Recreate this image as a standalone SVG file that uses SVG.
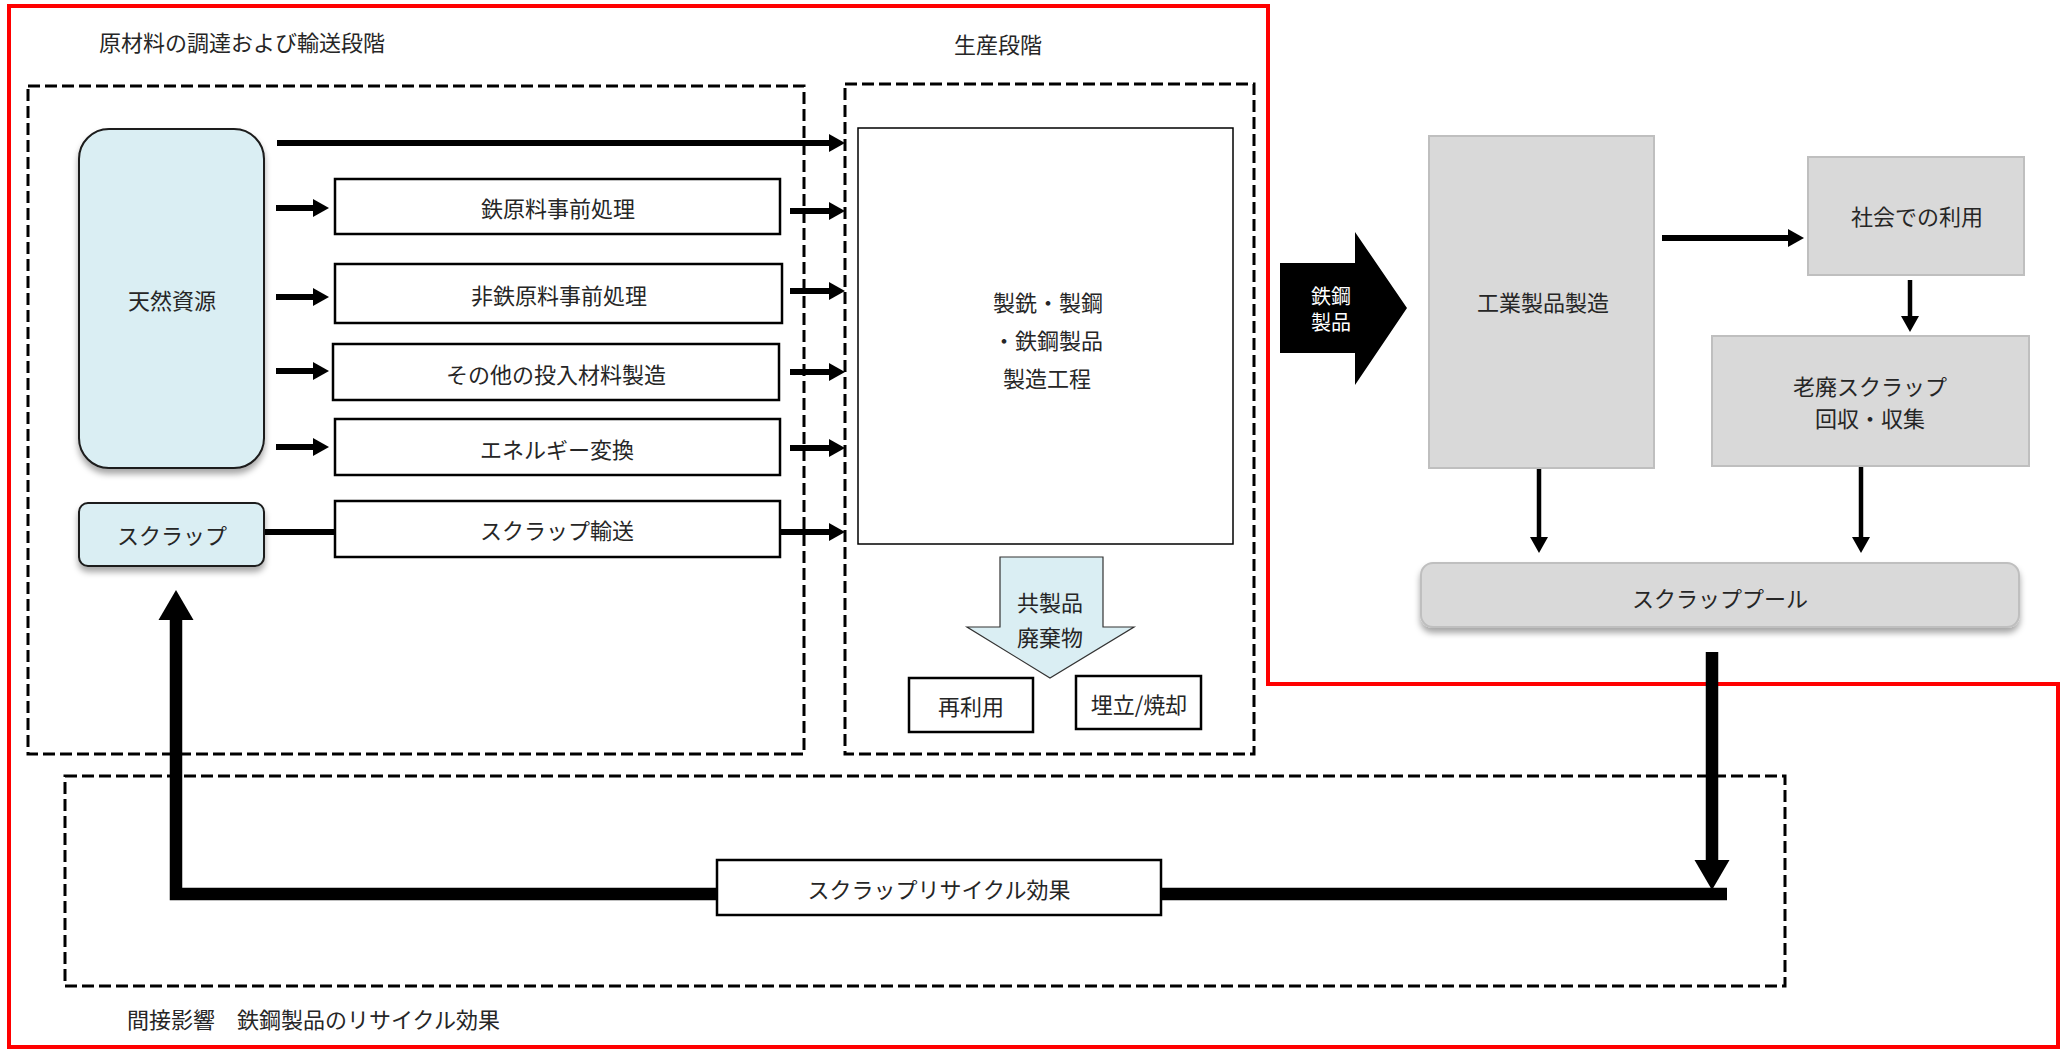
<svg xmlns="http://www.w3.org/2000/svg" width="2069" height="1050" viewBox="0 0 2069 1050">
<style>
text{font-family:"Noto Sans CJK JP","Noto Sans CJK SC",sans-serif;font-size:22px;fill:#262626;dominant-baseline:central}
.c{text-anchor:middle}
.dash{fill:none;stroke:#000;stroke-width:3;stroke-dasharray:12 5}
.box{fill:#fff;stroke:#000;stroke-width:2.5}
.blue{fill:#DAEEF3;stroke:#1a1a1a;stroke-width:2}
.gray{fill:#D9D9D9;stroke:#BFBFBF;stroke-width:2}
.ar{fill:none;stroke:#000;stroke-width:6;marker-end:url(#ah)}
.ars{fill:none;stroke:#000;stroke-width:4.5;marker-end:url(#ah)}
.big{fill:none;stroke:#000;stroke-width:12.5}
</style>
<defs>
<marker id="ah" markerUnits="userSpaceOnUse" markerWidth="16" markerHeight="18" refX="0" refY="9" orient="auto" overflow="visible"><path d="M0,0 L16,9 L0,18 Z" fill="#000"/></marker>
<marker id="ahb" markerUnits="userSpaceOnUse" markerWidth="30" markerHeight="35" refX="0" refY="17.5" orient="auto" overflow="visible"><path d="M0,0 L30,17.5 L0,35 Z" fill="#000"/></marker>
<filter id="sh" x="-10%" y="-10%" width="120%" height="130%"><feDropShadow dx="0" dy="5" stdDeviation="3" flood-color="#000" flood-opacity="0.35"/></filter>
</defs>
<rect width="2069" height="1050" fill="#fff"/>
<path d="M9,6 L1268,6 L1268,684 L2058,684 L2058,1047 L9,1047 Z" fill="none" stroke="#FF0000" stroke-width="4"/>
<g id="frames">
<rect class="dash" x="28" y="86" width="776" height="668"/>
<rect class="dash" x="845" y="84" width="409" height="670"/>
<rect class="dash" x="65" y="776" width="1720" height="210"/>
<text x="99" y="41">原材料の調達および輸送段階</text>
<text class="c" x="998" y="43">生産段階</text>
<text x="127" y="1018">間接影響　鉄鋼製品のリサイクル効果</text>
</g>
<g id="connectors">
<line class="ar" x1="277" y1="143" x2="829" y2="143"/>
<line class="ar" x1="276" y1="208" x2="313" y2="208"/>
<line class="ar" x1="276" y1="297" x2="313" y2="297"/>
<line class="ar" x1="276" y1="371" x2="313" y2="371"/>
<line class="ar" x1="276" y1="447" x2="313" y2="447"/>
<line x1="264" y1="532" x2="335" y2="532" stroke="#000" stroke-width="6"/>
<line class="ar" x1="790" y1="211" x2="829" y2="211"/>
<line class="ar" x1="790" y1="291" x2="829" y2="291"/>
<line class="ar" x1="790" y1="372" x2="829" y2="372"/>
<line class="ar" x1="790" y1="448" x2="829" y2="448"/>
<line class="ar" x1="780" y1="532" x2="829" y2="532"/>
<line class="ar" x1="1662" y1="238" x2="1788" y2="238"/>
<line class="ars" x1="1910" y1="280" x2="1910" y2="316"/>
<line class="ars" x1="1539" y1="468" x2="1539" y2="537"/>
<line class="ars" x1="1861" y1="466" x2="1861" y2="537"/>
<line class="big" x1="1712" y1="652" x2="1712" y2="860" style="marker-end:url(#ahb)"/>
<polyline class="big" points="1727,894 176,894 176,620" style="marker-end:url(#ahb)" stroke-linejoin="miter"/>
</g>
<g id="n-natural">
<rect class="blue" x="79" y="129" width="185" height="339" rx="30" filter="url(#sh)"/>
<text class="c" x="172" y="299">天然資源</text>
</g>
<g id="n-scrap">
<rect class="blue" x="79" y="503" width="185" height="63" rx="9" filter="url(#sh)"/>
<text class="c" x="172" y="534">スクラップ</text>
</g>
<g id="n-iron">
<rect class="box" x="335" y="179" width="445" height="55"/>
<text class="c" x="558" y="207">鉄原料事前処理</text>
</g>
<g id="n-noniron">
<rect class="box" x="335" y="264" width="447" height="59"/>
<text class="c" x="559" y="294">非鉄原料事前処理</text>
</g>
<g id="n-other">
<rect class="box" x="333" y="344" width="446" height="56"/>
<text class="c" x="556" y="373">その他の投入材料製造</text>
</g>
<g id="n-energy">
<rect class="box" x="335" y="419" width="445" height="56"/>
<text class="c" x="557" y="448">エネルギー変換</text>
</g>
<g id="n-scraptrans">
<rect class="box" x="335" y="501" width="445" height="56"/>
<text class="c" x="557" y="529">スクラップ輸送</text>
</g>
<g id="n-production">
<rect x="858" y="128" width="375" height="416" fill="#fff" stroke="#000" stroke-width="1.5"/>
<text class="c" x="1048" y="301">製銑・製鋼</text>
<text class="c" x="1048" y="339">・鉄鋼製品</text>
<text class="c" x="1047" y="377">製造工程</text>
</g>
<g id="n-coproduct">
<polygon points="1000,557 1103,557 1103,627 1134,627 1050,678 967,627 1000,627" fill="#DAEEF3" stroke="#333" stroke-width="1.2"/>
<text class="c" x="1050" y="601">共製品</text>
<text class="c" x="1050" y="636">廃棄物</text>
</g>
<g id="n-reuse">
<rect class="box" x="909" y="678" width="124" height="54"/>
<text class="c" x="971" y="705">再利用</text>
</g>
<g id="n-landfill">
<rect class="box" x="1076" y="676" width="125" height="53"/>
<text class="c" x="1139" y="703">埋立/焼却</text>
</g>
<g id="n-steelproduct">
<polygon points="1280,263 1355,263 1355,232 1407,308 1355,385 1355,353 1280,353" fill="#000"/>
<text class="c" x="1331" y="295" style="fill:#fff;font-size:20px">鉄鋼</text>
<text class="c" x="1331" y="321" style="fill:#fff;font-size:20px">製品</text>
</g>
<g id="n-industrial">
<rect class="gray" x="1429" y="136" width="225" height="332"/>
<text class="c" x="1543" y="301">工業製品製造</text>
</g>
<g id="n-society">
<rect class="gray" x="1808" y="157" width="216" height="118"/>
<text class="c" x="1917" y="215">社会での利用</text>
</g>
<g id="n-oldscrap">
<rect class="gray" x="1712" y="336" width="317" height="130"/>
<text class="c" x="1870" y="385">老廃スクラップ</text>
<text class="c" x="1870" y="417">回収・収集</text>
</g>
<g id="n-pool">
<rect class="gray" x="1421" y="563" width="598" height="64" rx="12" filter="url(#sh)"/>
<text class="c" x="1720" y="597">スクラッププール</text>
</g>
<g id="n-recycle">
<rect class="box" x="717" y="860" width="444" height="55" stroke-width="2"/>
<text class="c" x="939" y="888">スクラップリサイクル効果</text>
</g>
</svg>
